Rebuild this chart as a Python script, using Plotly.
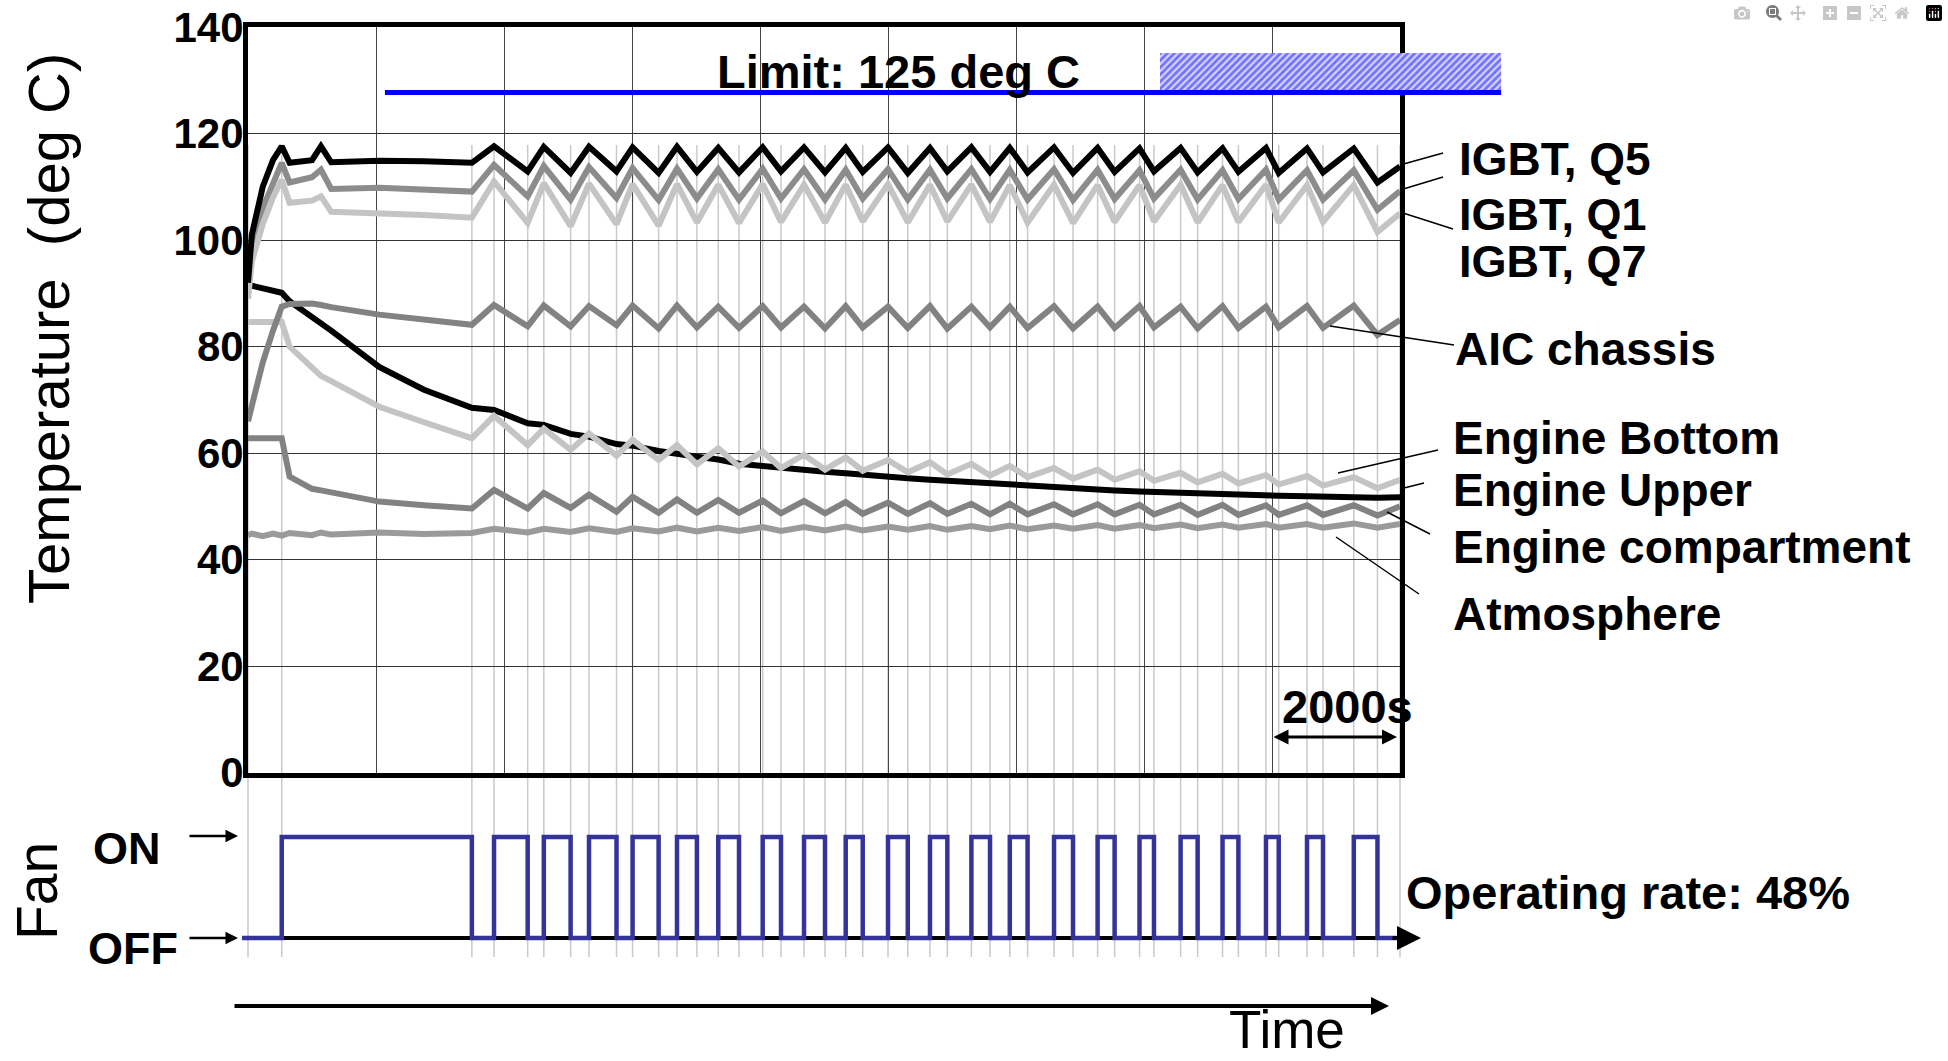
import plotly.graph_objects as go

W, H = 1948, 1061


def px(x):
    return x / W


def py(y):
    return 1 - y / H


# ---------------- data ----------------
# temperature sample times (s): warm-up phase, then fan switching instants
warm_t = [0, 60, 230, 390, 527, 650, 1000, 1140, 1300, 2050, 2750]
cycle_t = [3498, 3844, 4370, 4622, 5041, 5328, 5758, 6009, 6416, 6703, 7014,
           7348, 7672, 8042, 8328, 8688, 9016, 9339, 9605, 10000, 10309, 10656,
           10927, 11303, 11594, 11903, 12181, 12594, 12891, 13275, 13541, 13930,
           14156, 14572, 14838, 15227, 15475, 15906, 16105, 16547, 16797, 17278,
           17648, 18000]

q5_warm = [92, 101, 110, 115, 117.6, 114.5, 115.0, 117.6, 114.6, 114.9, 114.8]
q5_cyc = [114.5, 117.6, 112.9, 117.5, 112.6, 117.5, 112.9, 117.4, 112.6, 117.5, 112.8,
          117.3, 112.7, 117.4, 112.9, 117.4, 112.7, 117.3, 112.8, 117.4, 112.6, 117.3,
          112.9, 117.4, 112.8, 117.3, 112.7, 117.4, 112.6, 117.3, 112.8, 117.2, 112.9,
          117.3, 112.7, 117.2, 112.8, 117.3, 112.6, 117.2, 112.7, 117.2, 110.8, 113.8]

q1_warm = [91, 98, 106, 111, 114.5, 110.8, 111.8, 113.2, 109.6, 109.8, 109.5]
q1_cyc = [109.1, 114.1, 108.2, 113.9, 107.6, 113.7, 107.9, 113.5, 107.5, 113.4, 107.8,
          113.3, 107.6, 113.4, 107.8, 113.3, 107.6, 113.2, 107.8, 113.3, 107.6, 113.2,
          107.8, 113.3, 107.7, 113.2, 107.6, 113.3, 107.5, 113.2, 107.7, 113.1, 107.8,
          113.2, 107.6, 113.1, 107.7, 113.2, 107.6, 113.1, 107.6, 113.1, 105.7, 109.2]

q7_warm = [89, 96, 103, 108, 111.3, 107.0, 107.4, 108.2, 105.3, 105.1, 104.7]
q7_cyc = [104.2, 111.0, 103.2, 110.7, 102.6, 110.6, 103.0, 110.5, 102.7, 110.5, 103.3,
          110.4, 103.2, 110.5, 103.4, 110.4, 103.3, 110.4, 103.5, 110.5, 103.3, 110.4,
          103.5, 110.4, 103.4, 110.3, 103.3, 110.4, 103.2, 110.3, 103.4, 110.3, 103.5,
          110.4, 103.3, 110.3, 103.4, 110.4, 103.3, 110.3, 103.4, 110.3, 101.5, 105.0]

aic_warm = [66, 69, 77, 83, 87.5, 88.0, 88.1, 87.8, 87.4, 86.0, 85.0]
aic_cyc = [84.1, 87.8, 83.8, 87.7, 83.8, 87.6, 84.0, 87.7, 83.4, 87.7, 83.6,
           87.5, 83.5, 87.6, 83.6, 87.5, 83.4, 87.6, 83.6, 87.5, 83.5, 87.6,
           83.4, 87.5, 83.6, 87.5, 83.5, 87.6, 83.4, 87.5, 83.5, 87.6, 83.6,
           87.5, 83.4, 87.6, 83.5, 87.5, 83.6, 87.6, 83.5, 87.7, 82.2, 85.0]

eng_bottom_warm = [84.6, 84.6, 84.6, 84.6, 84.6, 80.0, 76.0, 74.5, 73.5, 68.7, 65.8]
eng_bottom_cyc = [62.8, 67.0, 61.5, 64.6, 60.6, 63.7, 59.5, 62.5, 58.7, 61.5, 57.9,
                  60.9, 57.5, 60.3, 57.2, 59.7, 56.9, 59.2, 56.7, 58.7, 56.4, 58.3,
                  56.0, 58.0, 55.8, 57.6, 55.5, 57.2, 55.2, 56.9, 55.0, 56.6, 54.8,
                  56.3, 54.5, 56.1, 54.3, 55.9, 54.1, 55.7, 53.9, 55.5, 53.4, 55.0]

eng_upper_warm = [91.6, 91.4, 90.9, 90.5, 90.1, 88.5, 85.6, 84.4, 83.0, 76.2, 71.9]
eng_upper_cyc = [68.5, 68.1, 65.6, 65.3, 63.6, 63.1, 61.7, 61.4, 60.4, 60.0, 59.3,
                 58.8, 58.0, 57.6, 57.2, 56.8, 56.5, 56.2, 55.9, 55.6, 55.3, 55.0,
                 54.8, 54.5, 54.2, 54.0, 53.8, 53.5, 53.3, 53.1, 53.0, 52.8, 52.7,
                 52.5, 52.4, 52.3, 52.2, 52.1, 52.0, 51.9, 51.8, 51.7, 51.6, 51.7]

eng_comp_warm = [62.8, 62.8, 62.8, 62.8, 62.8, 55.6, 53.3, 53.0, 52.6, 50.9, 50.2]
eng_comp_cyc = [49.6, 53.1, 49.6, 52.5, 49.7, 52.2, 49.0, 51.8, 48.8, 51.3, 48.8,
                51.2, 48.8, 51.1, 48.7, 51.0, 48.7, 50.8, 48.6, 50.7, 48.6, 50.6,
                48.6, 50.5, 48.5, 50.5, 48.5, 50.4, 48.5, 50.4, 48.5, 50.3, 48.5,
                50.3, 48.4, 50.3, 48.4, 50.2, 48.4, 50.2, 48.4, 50.2, 48.3, 50.0]

atm_warm = [44.6, 44.9, 44.4, 44.9, 44.5, 45.0, 44.6, 45.1, 44.7, 45.1, 44.8]
atm_cyc = [45.0, 45.8, 45.1, 45.8, 45.2, 45.9, 45.2, 45.9, 45.3, 46.0, 45.3,
           46.0, 45.4, 46.1, 45.4, 46.1, 45.5, 46.2, 45.5, 46.2, 45.6, 46.3,
           45.6, 46.3, 45.7, 46.4, 45.7, 46.4, 45.8, 46.5, 45.8, 46.5, 45.9,
           46.6, 45.9, 46.6, 46.0, 46.7, 46.0, 46.7, 46.0, 46.8, 46.0, 46.7]

# fan on/off record
fan_t = [-94, 527, 3498, 3844, 4370, 4622, 5041, 5328, 5758, 6009, 6416, 6703,
         7014, 7348, 7672, 8042, 8328, 8688, 9016, 9339, 9605, 10000, 10309,
         10656, 10927, 11303, 11594, 11903, 12181, 12594, 12891, 13275, 13541,
         13930, 14156, 14572, 14838, 15227, 15475, 15906, 16105, 16547, 16797,
         17278, 17648, 17950]
fan_state = [0, 1, 0, 1, 0, 1, 0, 1, 0, 1, 0, 1,
             0, 1, 0, 1, 0, 1, 0, 1, 0, 1, 0,
             1, 0, 1, 0, 1, 0, 1, 0, 1, 0,
             1, 0, 1, 0, 1, 0, 1, 0, 1, 0,
             1, 0, 0]

limit_label = "Limit: 125 deg C"
limit_T = 127.7
limit_span = [2140, 19580]
hatch_T = [127.7, 135.1]
hatch_span = [14250, 19580]

y_ticks = [0, 20, 40, 60, 80, 100, 120, 140]

series = [
    # name, warm, cycle, colour
    ("Atmosphere", atm_warm, atm_cyc, "#9a9a9a"),
    ("Engine compartment", eng_comp_warm, eng_comp_cyc, "#828282"),
    ("Engine Upper", eng_upper_warm, eng_upper_cyc, "#000000"),
    ("Engine Bottom", eng_bottom_warm, eng_bottom_cyc, "#c4c4c4"),
    ("AIC chassis", aic_warm, aic_cyc, "#828282"),
    ("IGBT, Q1", q1_warm, q1_cyc, "#8c8c8c"),
    ("IGBT, Q7", q7_warm, q7_cyc, "#c4c4c4"),
    ("IGBT, Q5", q5_warm, q5_cyc, "#000000"),
]

# ---------------- geometry (pixels) ----------------
PL, PR, PT, PB = 248, 1400, 27, 772.7
T_MAX = 18000
SPP = T_MAX / (PR - PL)  # seconds per pixel
WL, WR = 232, 1512       # wide (overlay) axis pixel extent
FAN_ON, FAN_OFF = 837, 938
FAN_LO, FAN_HI = -0.25, 1.25
fan_pp = FAN_OFF - FAN_ON
fan_bot = FAN_OFF + 0.25 * fan_pp
fan_top = FAN_ON - 0.25 * fan_pp

FONT = "Liberation Sans, Arial, sans-serif"

fig = go.Figure()

# hatch + limit line (wide axis so they can run past the frame)
fig.add_trace(go.Scatter(
    x=[hatch_span[0], hatch_span[1], hatch_span[1], hatch_span[0], hatch_span[0]],
    y=[hatch_T[0], hatch_T[0], hatch_T[1], hatch_T[1], hatch_T[0]],
    mode="lines", fill="toself", line=dict(width=0, color="rgba(0,0,0,0)"),
    fillcolor="rgba(0,0,0,0)",
    fillpattern=dict(shape="/", fgcolor="#1010ff", bgcolor="#d4d4ff", size=5, solidity=0.55),
    xaxis="x3", yaxis="y3", hoverinfo="skip"))
fig.add_trace(go.Scatter(
    x=limit_span, y=[limit_T, limit_T], mode="lines",
    line=dict(color="#0000ff", width=5), xaxis="x3", yaxis="y3", hoverinfo="skip"))

for name, warm, cyc, col in series:
    fig.add_trace(go.Scatter(
        x=warm_t + cycle_t, y=warm + cyc, mode="lines", name=name,
        line=dict(color=col, width=6), xaxis="x", yaxis="y"))

# fan panel
fig.add_trace(go.Scatter(
    x=[fan_t[0], T_MAX], y=[0, 0], mode="lines",
    line=dict(color="black", width=4), xaxis="x3", yaxis="y2", hoverinfo="skip"))
fig.add_trace(go.Scatter(
    x=fan_t, y=fan_state, mode="lines", line=dict(color="#333399", width=4.5, shape="hv"),
    xaxis="x3", yaxis="y2", name="Fan"))

shapes = []
# light vertical lines at the fan switching instants
for t in [0] + fan_t[1:-1] + [T_MAX]:
    shapes.append(dict(type="line", xref="x3", yref="paper", x0=t, x1=t,
                       y0=py(957), y1=py(145), layer="below",
                       line=dict(color="#c9c9c9", width=1.5)))

# leader lines for labels
leaders = [((1400, 165), (1443, 153)), ((1400, 190), (1443, 177)),
           ((1403, 213), (1453, 229)), ((1330, 326), (1454, 345)),
           ((1338, 473), (1438, 450)), ((1400, 489), (1424, 483)),
           ((1387, 512), (1430, 534)), ((1336, 537), (1419, 594))]
for (x0, y0), (x1, y1) in leaders:
    shapes.append(dict(type="line", xref="paper", yref="paper",
                       x0=px(x0), y0=py(y0), x1=px(x1), y1=py(y1),
                       line=dict(color="black", width=1.5)))

ann = []


def txt(s, x, y, size, xanchor="center", angle=0, bold=True, yanchor="middle"):
    ann.append(dict(text=("<b>%s</b>" % s) if bold else s, x=px(x), y=py(y),
                    xref="paper", yref="paper", xanchor=xanchor, yanchor=yanchor,
                    showarrow=False, textangle=angle,
                    font=dict(family=FONT, size=size, color="black")))


def arrow(x, y, dx, width, size, side="end"):
    ann.append(dict(text="", x=px(x), y=py(y), xref="paper", yref="paper",
                    ax=-dx, ay=0, axref="pixel", ayref="pixel", showarrow=True,
                    arrowhead=2, arrowsize=size, arrowwidth=width, arrowcolor="black",
                    arrowside=side, standoff=0, startstandoff=0))


txt("Temperature\u00a0\u00a0(deg C)", 48, 329, 58, angle=-90, bold=False)
txt("Fan", 37, 891, 57, angle=-90, bold=False)
txt("ON", 127, 848, 45)
txt("OFF", 133, 948, 45)
arrow(238, 836, 50, 2.5, 1)
arrow(238, 938, 50, 2.5, 1)
arrow(1421, 938, 30, 4, 1.2)
txt("Operating rate: 48%", 1404, 892, 47, xanchor="left")
txt(limit_label, 898, 71, 47)
txt("2000s", 1347, 706, 47)
arrow(1397, 737, 125, 3, 1, side="end+start")
arrow(1389, 1006, 1389 - 233, 4, 0.9)
txt("Time", 1287, 1029, 53, bold=False)

labels = [("IGBT, Q5", 1457, 159, 46), ("IGBT, Q1", 1457, 214, 45),
          ("IGBT, Q7", 1457, 261, 45),
          ("AIC chassis", 1453, 349, 46), ("Engine Bottom", 1451, 438, 46),
          ("Engine Upper", 1451, 490, 46), ("Engine compartment", 1451, 547, 46),
          ("Atmosphere", 1451, 614, 46)]
for s, x, y, fs in labels:
    txt(s, x, y, fs, xanchor="left")

fig.update_layout(
    width=W, height=H, margin=dict(l=0, r=0, t=0, b=0, pad=0, autoexpand=False),
    paper_bgcolor="white", plot_bgcolor="rgba(0,0,0,0)", showlegend=False,
    shapes=shapes, annotations=ann,
    xaxis=dict(domain=[px(PL), px(PR)], range=[0, T_MAX], tick0=0, dtick=2000,
               showgrid=True, gridcolor="#444444", gridwidth=1.2, zeroline=False,
               showticklabels=False, ticks="", showline=True, mirror=True,
               linecolor="black", linewidth=5, anchor="y", automargin=False),
    yaxis=dict(domain=[py(PB), py(PT)], range=[0, 140], tickvals=y_ticks,
               ticktext=["<b>%d</b>" % v for v in y_ticks],
               tickfont=dict(family=FONT, size=42, color="black"),
               ticklabelstandoff=-9,
               showgrid=True, gridcolor="#333333", gridwidth=1.2, zeroline=False,
               ticks="", showline=True, mirror=True, linecolor="black", linewidth=5,
               anchor="x", automargin=False),
    xaxis3=dict(domain=[px(WL), px(WR)], range=[(WL - PL) * SPP, (WR - PL) * SPP],
                visible=False, anchor="y3", automargin=False),
    yaxis3=dict(domain=[py(PB), py(PT)], range=[0, 140], visible=False,
                anchor="x3", automargin=False),
    yaxis2=dict(domain=[py(fan_bot), py(fan_top)], range=[FAN_LO, FAN_HI],
                visible=False, anchor="x3", automargin=False),
)

fig.write_html("out.html", post_script="document.body.style.margin='0';document.body.style.overflow='hidden';")
